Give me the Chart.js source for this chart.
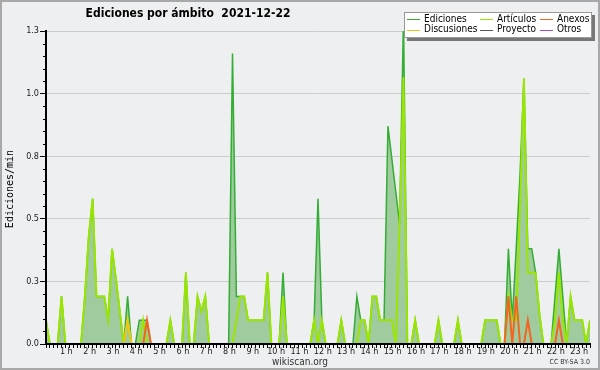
<!DOCTYPE html>
<html>
<head>
<meta charset="utf-8">
<title>Ediciones por ámbito</title>
<script src="https://cdn.jsdelivr.net/npm/chart.js@4"></script>
<style>
  body { margin: 0; background: #eeeff1; }
  #wrap { width: 600px; height: 370px; }
</style>
</head>
<body>
<div id="wrap"><canvas id="grafico" width="600" height="370"></canvas></div>
<script>
// DATOS (ediciones por minuto, un punto cada 10 minutos desde las 00:00)

const titulo = "Ediciones por ámbito  2021-12-22";
const tituloY = "Ediciones/min";
const horas = ["1 h", "2 h", "3 h", "4 h", "5 h", "6 h", "7 h", "8 h", "9 h", "10 h", "11 h", "12 h",
               "13 h", "14 h", "15 h", "16 h", "17 h", "18 h", "19 h", "20 h", "21 h", "22 h", "23 h"];
const nombres = ["Ediciones", "Artículos", "Anexos", "Discusiones", "Proyecto", "Otros"];

const ediciones = [
    .095, 0, 0, 0, .19, 0, 0, 0, 0, 0,
    .19, .43, .58, .19, .19, .19, .095, .38, .26, .13,
    0, .19, 0, 0, .095, .095, .095, 0, 0, 0,
    0, 0, .095, 0, 0, 0, .285, 0, 0, .19,
    .13, .19, 0, 0, 0, 0, 0, 0, 1.16, .19,
    .19, .19, .095, .095, .095, .095, .095, .285, 0, 0,
    0, .285, 0, 0, 0, 0, 0, 0, 0, .095,
    .58, .095, 0, 0, 0, 0, .095, 0, 0, 0,
    .19, .095, .095, 0, .19, .19, .095, .095, .87, .74,
    .61, .48, 1.3, 0, 0, .095, 0, 0, 0, 0,
    0, .095, 0, 0, 0, 0, .095, 0, 0, 0,
    0, 0, 0, .095, .095, .095, .095, 0, 0, .38,
    .095, .38, .68, 1.06, .38, .38, .285, .12, 0, 0,
    0, .19, .38, .19, 0, .19, .095, .095, .095, 0,
    .095
];

const articulos = [
    .095, 0, 0, 0, .19, 0, 0, 0, 0, 0,
    .19, .43, .58, .19, .19, .19, .095, .38, .26, .13,
    0, .095, 0, 0, 0, .095, 0, 0, 0, 0,
    0, 0, .095, 0, 0, 0, .285, 0, 0, .19,
    .13, .19, 0, 0, 0, 0, 0, 0, 0, .095,
    .19, .19, .095, .095, .095, .095, .095, .285, 0, 0,
    0, .19, 0, 0, 0, 0, 0, 0, 0, .095,
    0, .095, 0, 0, 0, 0, .095, 0, 0, 0,
    0, .095, .095, 0, .19, .19, .095, .095, .095, .095,
    0, .48, 1.065, 0, 0, .095, 0, 0, 0, 0,
    0, .095, 0, 0, 0, 0, .095, 0, 0, 0,
    0, 0, 0, .095, .095, .095, .095, 0, 0, .19,
    .095, .095, .55, 1.06, .285, .285, .285, .12, 0, 0,
    0, .095, .285, .095, 0, .19, .095, .095, .095, 0,
    .095
];

const anexos = [
    0, 0, 0, 0, 0, 0, 0, 0, 0, 0,
    0, 0, 0, 0, 0, 0, 0, 0, 0, 0,
    0, 0, 0, 0, 0, 0, .095, 0, 0, 0,
    0, 0, 0, 0, 0, 0, 0, 0, 0, 0,
    0, 0, 0, 0, 0, 0, 0, 0, 0, 0,
    0, 0, 0, 0, 0, 0, 0, 0, 0, 0,
    0, 0, 0, 0, 0, 0, 0, 0, 0, 0,
    0, 0, 0, 0, 0, 0, 0, 0, 0, 0,
    0, 0, 0, 0, 0, 0, 0, 0, 0, 0,
    0, 0, 0, 0, 0, 0, 0, 0, 0, 0,
    0, 0, 0, 0, 0, 0, 0, 0, 0, 0,
    0, 0, 0, 0, 0, 0, 0, 0, 0, .19,
    0, .19, 0, 0, .095, 0, 0, 0, 0, 0,
    0, 0, .095, 0, 0, 0, 0, 0, 0, 0,
    0
];

const discusiones = [
    0, 0, 0, 0, 0, 0, 0, 0, 0, 0,
    0, 0, 0, 0, 0, 0, 0, 0, 0, 0,
    0, .095, 0, 0, 0, 0, 0, 0, 0, 0,
    0, 0, 0, 0, 0, 0, 0, 0, 0, 0,
    0, 0, 0, 0, 0, 0, 0, 0, 0, 0,
    0, 0, 0, 0, 0, 0, 0, 0, 0, 0,
    0, 0, 0, 0, 0, 0, 0, 0, 0, 0,
    0, 0, 0, 0, 0, 0, 0, 0, 0, 0,
    0, 0, 0, 0, 0, 0, 0, 0, 0, 0,
    0, 0, 0, 0, 0, 0, 0, 0, 0, 0,
    0, 0, 0, 0, 0, 0, 0, 0, 0, 0,
    0, 0, 0, 0, 0, 0, 0, 0, 0, 0,
    0, 0, 0, 0, 0, 0, 0, 0, 0, 0,
    0, 0, 0, 0, 0, 0, 0, 0, 0, 0,
    0
];

const proyecto = [
    0, 0, 0, 0, 0, 0, 0, 0, 0, 0,
    0, 0, 0, 0, 0, 0, 0, 0, 0, 0,
    0, 0, 0, 0, 0, 0, 0, 0, 0, 0,
    0, 0, 0, 0, 0, 0, 0, 0, 0, 0,
    0, 0, 0, 0, 0, 0, 0, 0, 0, 0,
    0, 0, 0, 0, 0, 0, 0, 0, 0, 0,
    0, 0, 0, 0, 0, 0, 0, 0, 0, 0,
    0, 0, 0, 0, 0, 0, 0, 0, 0, 0,
    0, 0, 0, 0, 0, 0, 0, 0, 0, 0,
    0, 0, 0, 0, 0, 0, 0, 0, 0, 0,
    0, 0, 0, 0, 0, 0, 0, 0, 0, 0,
    0, 0, 0, 0, 0, 0, 0, 0, 0, 0,
    0, 0, 0, 0, 0, 0, 0, 0, 0, 0,
    0, 0, 0, 0, 0, 0, 0, 0, 0, 0,
    0
];

const otros = [
    0, 0, 0, 0, 0, 0, 0, 0, 0, 0,
    0, 0, 0, 0, 0, 0, 0, 0, 0, 0,
    0, 0, 0, 0, 0, 0, 0, 0, 0, 0,
    0, 0, 0, 0, 0, 0, 0, 0, 0, 0,
    0, 0, 0, 0, 0, 0, 0, 0, 0, 0,
    0, 0, 0, 0, 0, 0, 0, 0, 0, 0,
    0, 0, 0, 0, 0, 0, 0, 0, 0, 0,
    0, 0, 0, 0, 0, 0, 0, 0, 0, 0,
    0, 0, 0, 0, 0, 0, 0, 0, 0, 0,
    0, 0, 0, 0, 0, 0, 0, 0, 0, 0,
    0, 0, 0, 0, 0, 0, 0, 0, 0, 0,
    0, 0, 0, 0, 0, 0, 0, 0, 0, 0,
    0, 0, 0, 0, 0, 0, 0, 0, 0, 0,
    0, 0, 0, 0, 0, 0, 0, 0, 0, 0,
    0
];

// minutos desde medianoche de cada punto
const minutos = [];
for (let i = 0; i < ediciones.length; i++) {
    minutos.push(i * 10);
}

const colores = ["#34ad34", "#9ae600", "#f26522", "#f0c419", "#555555", "#9a4ce6"];
const fuente = '"DejaVu Sans Condensed", "DejaVu Sans", sans-serif';


// DECORACION: fondo, titulo, leyenda, pie

const decoracion = {
    id: "decoracion",
    beforeDraw(chart) {
        const c = chart.ctx;
        c.save();
        c.fillStyle = "#eeeff1";
        c.fillRect(0, 0, chart.width, chart.height);
        c.restore();
    },
    afterDraw(chart) {
        const c = chart.ctx;
        const ejeY = chart.scales.y;
        c.save();

        // marcas menores del eje Y
        c.strokeStyle = "#000";
        c.lineWidth = 1;
        for (let i = 0; i <= 25; i++) {
            if (i % 5 === 0) continue;
            const py = Math.round(ejeY.getPixelForValue(i * 0.05)) + 0.5;
            c.beginPath();
            c.moveTo(ejeY.right - 3, py);
            c.lineTo(ejeY.right, py);
            c.stroke();
        }

        // titulo
        c.fillStyle = "#000";
        c.textAlign = "center";
        c.textBaseline = "middle";
        c.font = "bold 12px " + fuente;
        c.fillText(titulo, 188, 14);

        // titulo eje Y
        c.save();
        c.translate(10, 189);
        c.rotate(-Math.PI / 2);
        c.font = '10px "DejaVu Sans Mono", monospace';
        c.fillText(tituloY, 0, 0);
        c.restore();

        // pie
        c.fillStyle = "#333";
        c.font = "10px " + fuente;
        c.fillText("wikiscan.org", 300, 362);
        c.textAlign = "right";
        c.font = "7px " + fuente;
        c.fillText("CC BY-SA 3.0", 590, 362);

        // leyenda
        const lx = 404, ly = 12, lw = 188, lh = 26;
        c.fillStyle = "#777";
        c.fillRect(lx + 3, ly + 3, lw, lh);
        c.fillStyle = "#fff";
        c.fillRect(lx, ly, lw, lh);
        c.strokeStyle = "#999";
        c.strokeRect(lx + 0.5, ly + 0.5, lw - 1, lh - 1);
        const colX = [407, 480, 540];
        const filaY = [19, 29.5];
        c.textAlign = "left";
        c.font = "10px " + fuente;
        chart.data.datasets.forEach(function (ds, i) {
            const x = colX[i % 3];
            const y = filaY[Math.floor(i / 3)];
            c.strokeStyle = ds.borderColor;
            c.lineWidth = 1;
            c.beginPath();
            c.moveTo(x, Math.round(y) + 0.5);
            c.lineTo(x + 13, Math.round(y) + 0.5);
            c.stroke();
            c.fillStyle = "#000";
            c.fillText(ds.label, x + 17, y);
        });

        // marco exterior
        c.strokeStyle = "#a8a8a8";
        c.lineWidth = 2;
        c.strokeRect(1, 1, chart.width - 2, chart.height - 2);
        c.restore();
    }
};


// GRAFICO

const series = [ediciones, articulos, anexos, discusiones, proyecto, otros];

new Chart(document.getElementById("grafico"), {
    type: "line",
    data: {
        labels: minutos,
        datasets: series.map(function (serie, i) {
            return {
                label: nombres[i],
                data: serie,
                borderColor: colores[i],
                borderWidth: i === 0 ? 1.5 : 2,
                fill: i === 0 ? "origin" : false,
                backgroundColor: i === 0 ? "#9fcb9f" : colores[i],
                order: i === 0 ? 10 : 6 - i
            };
        })
    },
    options: {
        responsive: false,
        animation: false,
        devicePixelRatio: 1,
        layout: { padding: { left: 0, top: 31, right: 10, bottom: 0 } },
        elements: { point: { radius: 0 }, line: { tension: 0 } },
        plugins: { legend: { display: false }, tooltip: { enabled: false } },
        scales: {
            x: {
                type: "linear",
                min: 0,
                max: 1400,
                afterFit: function (s) { s.height = 26; },
                border: { color: "#000", width: 2, z: 1 },
                grid: { drawOnChartArea: false, tickLength: 4, tickColor: "#000" },
                ticks: {
                    stepSize: 10,
                    autoSkip: false,
                    maxRotation: 0,
                    padding: -2,
                    labelOffset: -3,
                    color: "#222",
                    font: { family: fuente, size: 9 },
                    callback: function (v) {
                        return (v % 60 === 0 && v > 0) ? horas[v / 60 - 1] : "";
                    }
                }
            },
            y: {
                min: 0,
                max: 1.25,
                afterFit: function (s) { s.width = 46; },
                border: { color: "#000", width: 2, z: 1 },
                grid: { color: "#cccccc", tickColor: "#000", tickLength: 6 },
                ticks: {
                    stepSize: 0.25,
                    padding: 1,
                    color: "#222",
                    font: { family: fuente, size: 9 },
                    callback: function (v) { return v.toFixed(1); }
                }
            }
        }
    },
    plugins: [decoracion]
});
</script>
</body>
</html>
